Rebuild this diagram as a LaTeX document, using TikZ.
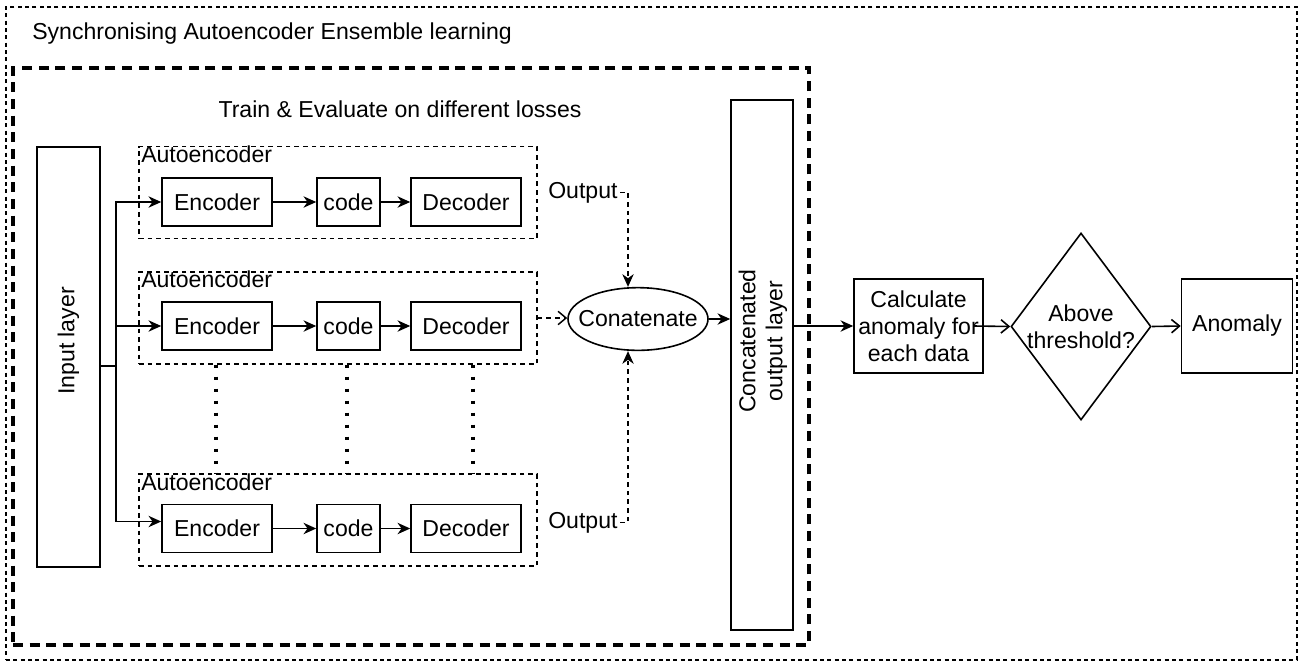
\documentclass[tikz,border=0pt]{standalone}
\usepackage{fontspec}
\setmainfont{Liberation Sans}
\usetikzlibrary{arrows.meta,shapes.geometric}
\begin{document}
\begin{tikzpicture}[x=0.75pt,y=-0.75pt,
  every node/.style={font=\fontsize{17.3}{20.25}\selectfont, inner sep=0pt},
  box/.style={draw, line width=1.2pt, rectangle},
  aebox/.style={draw, line width=1pt, dash pattern=on 3.5pt off 3pt, rectangle},
  outerframe/.style={draw, line width=0.8pt, dash pattern=on 3pt off 2.5pt, rectangle},
  innerframe/.style={draw, line width=2.6pt, dash pattern=on 7.5pt off 5pt, rectangle},
  arr/.style={line width=1.2pt, -{Stealth[length=9.5pt,width=8.5pt,inset=3pt]}},
  openarr/.style={line width=1.2pt, -{Straight Barb[length=6pt,width=10pt]}},
  dasharr/.style={line width=1.1pt, dash pattern=on 3.5pt off 3pt, -{Stealth[length=9.5pt,width=8.5pt,inset=3pt]}},
  dashopen/.style={line width=1.1pt, dash pattern=on 3.5pt off 3pt, -{Straight Barb[length=6pt,width=10pt]}},
  dotline/.style={line width=2.4pt, dash pattern=on 2.2pt off 6.8pt},
  encbox/.style={box, minimum width=82.5pt, minimum height=36pt},
  codebox/.style={box, minimum width=47.25pt, minimum height=36pt},
  aeframe/.style={aebox, minimum width=298.5pt, minimum height=69pt},
]
\useasboundingbox (0,0) rectangle (1301,664);

% frames
\node[outerframe, minimum width=968.25pt, minimum height=489.75pt] (outer) at (651.5,333.5) {};
\node[anchor=base west] (title) at (32,39) {Synchronising Autoencoder Ensemble learning};
\node[innerframe, minimum width=597pt, minimum height=432.75pt] (inner) at (411,356.5) {};
\node[anchor=base] (train) at (400,117) {Train \& Evaluate on different losses};

% input layer
\node[box, minimum width=47.25pt, minimum height=315pt] (input) at (68.5,357) {};
\node[rotate=90] (inputtxt) at (68.5,341) {Input layer};

% autoencoder frames
\node[aeframe] (ae1) at (338,192.5) {};
\node[aeframe] (ae2) at (338,318) {};
\node[aeframe] (ae3) at (338,520) {};
\node[anchor=base west] (lab1) at (141,162) {Autoencoder};
\node[anchor=base west] (lab2) at (141,287) {Autoencoder};
\node[anchor=base west] (lab3) at (141,490) {Autoencoder};

% encoders / codes / decoders
\node[encbox] (enc1) at (217,202) {Encoder};
\node[codebox] (code1) at (348.5,202) {code};
\node[encbox] (dec1) at (466,202) {Decoder};
\node[encbox] (enc2) at (217,326) {Encoder};
\node[codebox] (code2) at (348.5,326) {code};
\node[encbox] (dec2) at (466,326) {Decoder};
\node[encbox] (enc3) at (217,528.5) {Encoder};
\node[codebox] (code3) at (348.5,528.5) {code};
\node[encbox] (dec3) at (466,528.5) {Decoder};

% outputs
\node[anchor=base west] (out1) at (548,198) {Output};
\node[anchor=base west] (out2) at (548,528) {Output};

% concatenate
\node[draw, ellipse, line width=1.2pt, minimum width=105pt, minimum height=47pt] (ell) at (638,319) {\makebox[0pt]{Conatenate}};

% concatenated output layer
\node[box, minimum width=46.5pt, minimum height=397.5pt] (concat) at (762,365) {};
\node[rotate=90, align=center] (concattxt) at (763,341) {Concatenated\\output layer};

% right part
\node[box, minimum width=96.75pt, minimum height=70.5pt, align=center] (calc) at (918.5,326) {Calculate\\anomaly for\\each data};
\node[draw, diamond, line width=1.2pt, minimum width=105pt, minimum height=140.25pt] (dia) at (1081,326.5) {};
\node[align=center] (diatxt) at (1081,327) {Above\\threshold?};
\node[box, minimum width=83.25pt, minimum height=70.5pt] (anom) at (1237,326) {Anomaly};

% input branching
\coordinate (junc) at (116,366);
\draw[line width=1.2pt] (input.east |- junc) -- (junc);
\draw[arr] (junc) |- (enc1.west);
\draw[arr] (junc) |- (enc2.west);
\draw[arr] (junc) |- ([yshift=5.25pt]enc3.west);

% internal arrows
\draw[arr] (enc1) -- (code1);
\draw[arr] (code1) -- (dec1);
\draw[arr] (enc2) -- (code2);
\draw[arr] (code2) -- (dec2);
\draw[arr] (enc3) -- (code3);
\draw[arr] (code3) -- (dec3);

% dotted continuation
\draw[dotline] ([xshift=-91.5pt]ae2.south) -- ([xshift=-91.5pt]ae3.north);
\draw[dotline] ([xshift=6.75pt]ae2.south) -- ([xshift=6.75pt]ae3.north);
\draw[dotline] ([xshift=101.25pt]ae2.south) -- ([xshift=101.25pt]ae3.north);

% outputs to concatenate
\draw[dasharr] ([xshift=2pt]out1.east) -| ([xshift=-7.5pt]ell.north);
\draw[dasharr] ([xshift=2pt]out2.east) -| ([xshift=-7.5pt]ell.south);
\draw[dashopen] (ae2.east) -- (ae2.east -| ell.west);
\draw[arr] (ell.east) -- (ell.east -| concat.west);

% right chain
\draw[arr] (calc.west -| concat.east) -- (calc.west);
\draw[openarr] ([xshift=-7.5pt]calc.east) -- (dia.west);
\draw[openarr] (dia.east) -- (anom.west);
\end{tikzpicture}
\end{document}
